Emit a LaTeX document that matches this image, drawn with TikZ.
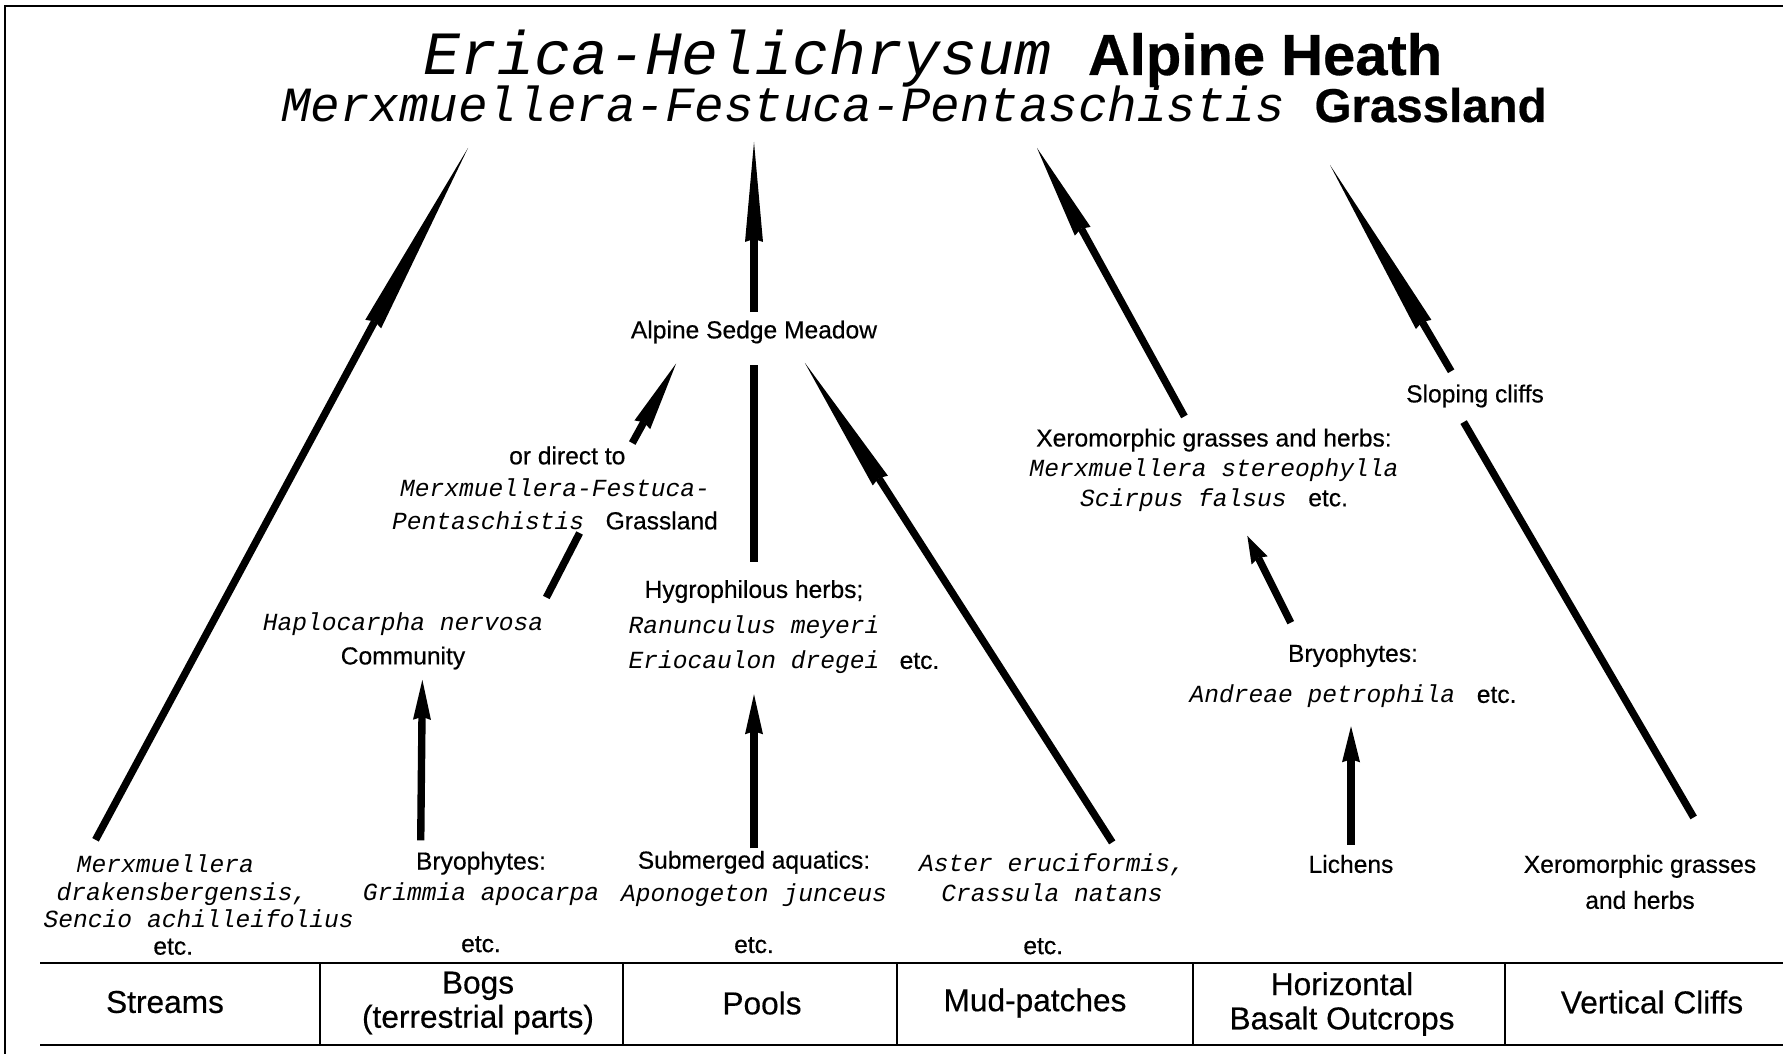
\documentclass[tikz,border=0pt]{standalone}
\usepackage{fontspec}
\setmainfont{Liberation Sans}[FakeBold=0.45]
\setmonofont{Liberation Mono}
\usetikzlibrary{arrows.meta}
\newcommand{\taxon}[1]{{\ttfamily\itshape #1}}

\begin{document}
\begin{tikzpicture}[x=0.02cm,y=-0.02cm,
  lab/.style={inner sep=0pt,align=center,font=\fontsize{14}{#1}\selectfont},lab/.default=17pt,
  cell/.style={inner sep=0pt,align=center,font=\fontsize{18}{19.5}\selectfont},
  shaft/.style={line width=4.2pt},
  spear/.style={shaft,-{Stealth[length=#1,width=3.6mm,inset=0.6mm,line width=0pt]}},
  frameline/.style={line width=1.1pt},
  tabrule/.style={line width=1.4pt}]
  \useasboundingbox (0,0) rectangle (1783,1054);
  \draw[frameline] (5,1054) -- (5,6) -- (1783,6);

  % titles
  \node[anchor=base] (heath) at (933,75) {{\fontsize{35}{40}\selectfont\taxon{Erica-Helichrysum\ }}{\fontsize{33}{40}\selectfont\bfseries Alpine Heath}};
  \node[anchor=base] (grass) at (914,122) {{\fontsize{28}{34}\selectfont\taxon{Merxmuellera-Festuca-Pentaschistis\ }}{\fontsize{27}{34}\selectfont\bfseries Grassland}};
  \coordinate (hA) at (468,148);
  \coordinate (hC) at (754,142);
  \coordinate (hD) at (1037,148);
  \coordinate (hE) at (1330,165);

  % intermediate stages
  \node[lab] (sedge) at (754,332) {Alpine Sedge Meadow};
  \node[lab=18.5pt] (direct) at (555,488) {or direct to\hspace*{-14pt}\\\taxon{Merxmuellera-Festuca-}\\\taxon{Pentaschistis\ } Grassland};
  \node[lab=19.4pt] (hap) at (403,641) {\taxon{Haplocarpha nervosa}\\Community};
  \node[lab=20.2pt] (hygro) at (754,627) {Hygrophilous herbs;\\\taxon{Ranunculus meyeri}\\\taxon{Eriocaulon dregei}\rlap{\hspace{11.5pt}etc.}};
  \node[lab] (xero) at (1214,470) {Xeromorphic grasses and herbs:\\\taxon{Merxmuellera stereophylla}\\\taxon{Scirpus falsus\ } etc.};
  \node[lab=23.3pt] (bryo2) at (1353,676) {Bryophytes:\\\taxon{Andreae petrophila\ } etc.};
  \node[lab] (slope) at (1475,396) {Sloping cliffs};

  % pioneers
  \node[lab=15.5pt] (streamsp) at (182,905) {\taxon{Merxmuellera}\hspace*{19pt}\\\taxon{drakensbergensis,}\\\hspace*{19pt}\taxon{Sencio achilleifolius}\\etc.\hspace*{10pt}};
  \node[lab=17.5pt] (bogsp) at (481,902) {Bryophytes:\\\taxon{Grimmia apocarpa}\\[12pt]etc.};
  \node[lab=18.5pt] (poolsp) at (754,902) {Submerged aquatics:\\\taxon{Aponogeton junceus}\\[11pt]etc.};
  \node[lab=17pt] (mudp) at (1052,904) {\taxon{Aster eruciformis,}\\\taxon{Crassula natans}\\[13pt]etc.\hspace*{10pt}};
  \node[lab] (lich) at (1351,864) {Lichens};
  \node[lab=20.5pt] (cliffp) at (1640,882) {Xeromorphic grasses\\and herbs};

  % habitats
  \draw[tabrule] (40,963) -- (1783,963) (40,1045) -- (1783,1045);
  \foreach \x in {320,623,897,1193,1505} \draw[tabrule] (\x,963) -- (\x,1045);
  \node[cell] (streams) at (165,1002) {Streams};
  \node[cell] (bogs) at (478,1003) {Bogs\\(terrestrial parts)};
  \node[cell] (pools) at (762,1003) {Pools};
  \node[cell] (mud) at (1035,1003) {Mud-patches};
  \node[cell] (basalt) at (1342,1004) {Horizontal\\Basalt Outcrops};
  \node[cell] (cliffs) at (1652,1002) {Vertical Cliffs};

  % successions
  \draw[spear=40mm,shorten <=3.4mm] (streamsp.152) -- (hA);
  \draw[spear=8mm,shorten <=2.2mm,shorten >=2mm] (bogsp.140) -- (hap.304);
  \draw[shaft,shorten <=3.3mm,shorten >=0.7mm] (hap.12) -- (direct.302);
  \draw[spear=14mm,shorten <=0.7mm,shorten >=4.5mm] (direct.29) -- (sedge.190);
  \draw[spear=8mm,shorten <=0.4mm,shorten >=4mm] (poolsp.north) -- (poolsp.north |- hygro.south);
  \draw[shaft,shorten <=3.6mm,shorten >=4.2mm] (hygro.north) -- (hygro.north |- sedge.south);
  \draw[spear=20mm,shorten <=1.6mm] (sedge.north) -- (hC);
  \draw[spear=28mm,shorten <=2.6mm,shorten >=4.5mm] (mudp.37) -- (sedge.343);
  \draw[spear=7.2mm,shorten <=2mm,shorten >=3.6mm] (lich.north) -- (lich.north |- bryo2.south);
  \draw[spear=5.5mm,shorten <=4.7mm,shorten >=5.4mm] (bryo2.148) -- (xero.297);
  \draw[spear=19mm,shorten <=2.7mm] (xero.119) -- (hD);
  \draw[shaft,shorten <=8.6mm,shorten >=3.3mm] (cliffp.20) -- (slope.211);
  \draw[spear=37mm,shorten <=3mm] (slope.144) -- (hE);
\end{tikzpicture}
\end{document}
